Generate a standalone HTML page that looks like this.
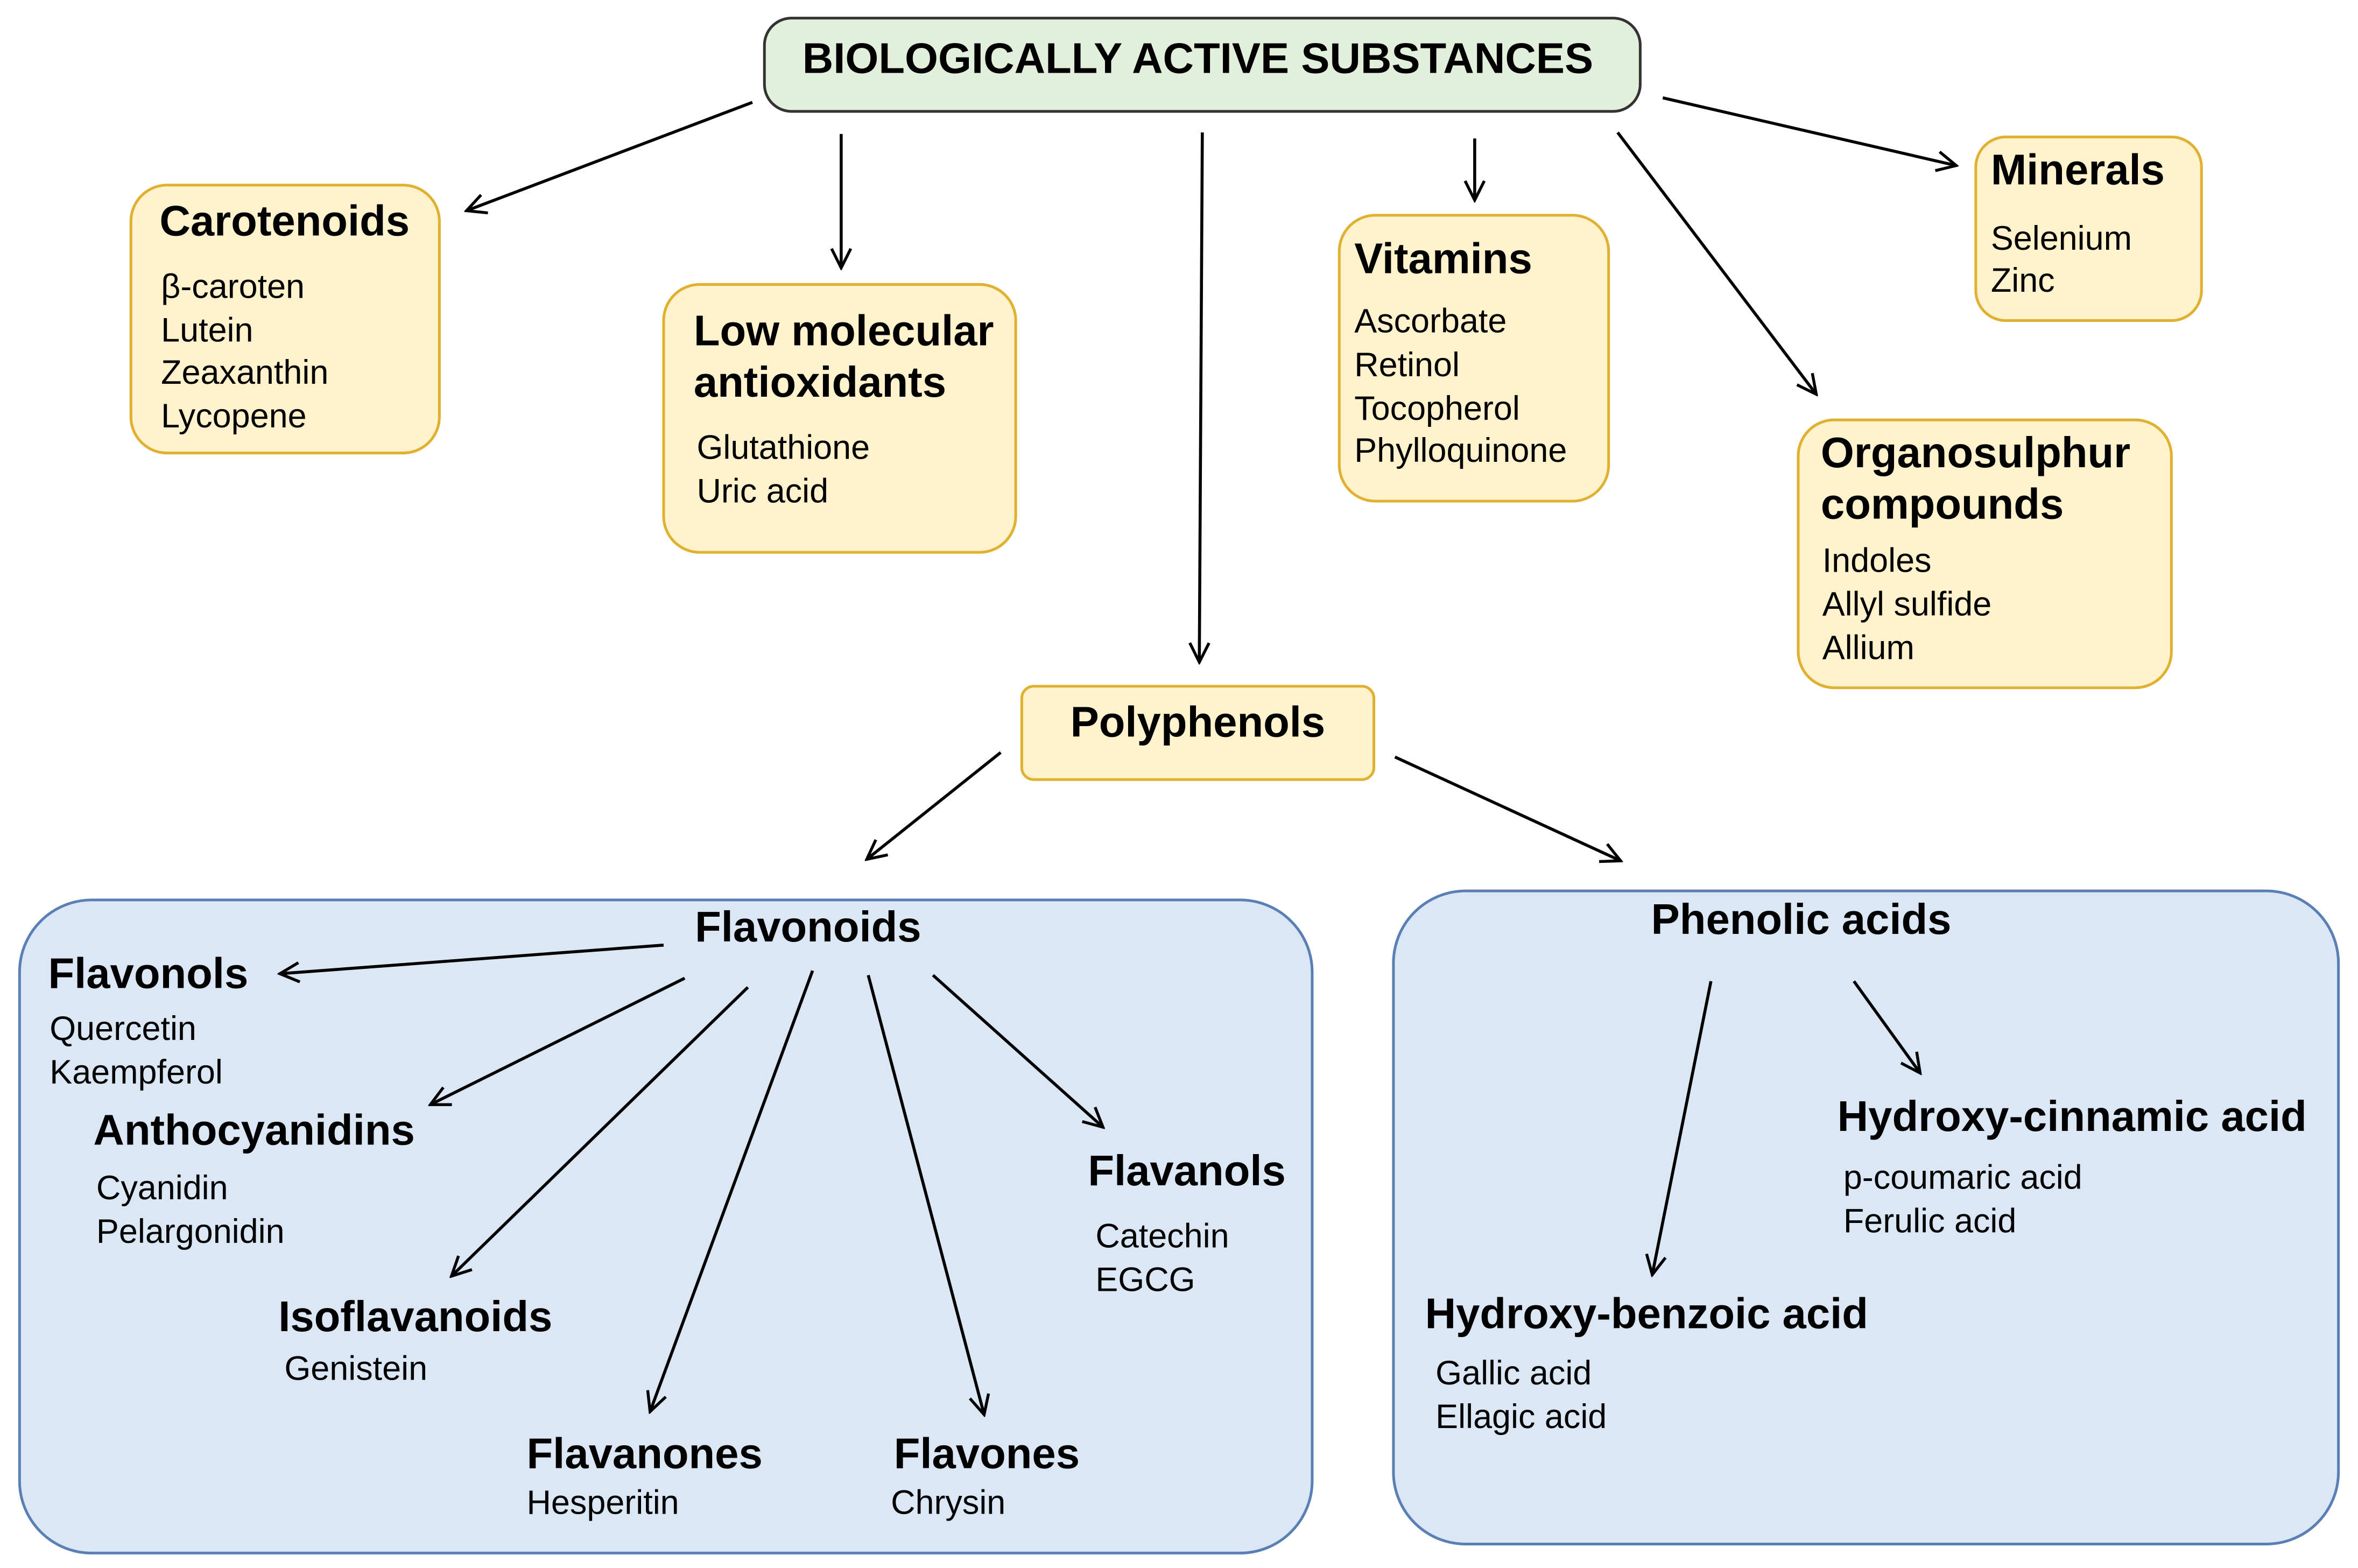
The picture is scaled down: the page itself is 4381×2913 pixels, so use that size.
<!DOCTYPE html>
<html><head><meta charset="utf-8"><style>
html,body{margin:0;padding:0;background:#fff;}
svg{display:block}
text{font-family:"Liberation Sans",Arial,sans-serif;dominant-baseline:middle;fill:#000}
.t{font-weight:bold;font-size:28.5px}
.i{font-size:22.5px}
.y{fill:#fff2cc;stroke:#e0b030;stroke-width:1.8}
.b{fill:#dce7f5;stroke:#5a7fb5;stroke-width:1.8}
.a{stroke:#000;stroke-width:2;fill:none;marker-end:url(#m)}
</style></head><body>
<svg width="4381" height="2913" viewBox="0 0 1567 1041.9" xmlns="http://www.w3.org/2000/svg">
<defs><marker id="m" viewBox="0 0 20 20" refX="18" refY="10" markerWidth="16" markerHeight="16" markerUnits="userSpaceOnUse" orient="auto"><polyline points="2,2 18,10 2,18" fill="none" stroke="#000" stroke-width="2.4"/></marker></defs>
<rect x="0" y="0" width="1567" height="1042" fill="#fff"/>
<rect x="508" y="12" width="582" height="62" rx="18" fill="#e2efda" stroke="#333" stroke-width="1.8"/>
<text x="796" y="41" text-anchor="middle" class="t" style="font-size:28.5px">BIOLOGICALLY ACTIVE SUBSTANCES</text>

<rect class="y" x="87" y="123" width="205" height="178" rx="24"/>
<text class="t" x="106" y="149">Carotenoids</text>
<text class="i" x="107" y="192">β-caroten</text><text class="i" x="107" y="221">Lutein</text><text class="i" x="107" y="249">Zeaxanthin</text><text class="i" x="107" y="278">Lycopene</text>

<rect class="y" x="441" y="189" width="234" height="178" rx="24"/>
<text class="t" x="461" y="222">Low molecular</text><text class="t" x="461" y="256">antioxidants</text>
<text class="i" x="463" y="299">Glutathione</text><text class="i" x="463" y="328">Uric acid</text>

<rect class="y" x="890" y="143" width="179" height="190" rx="24"/>
<text class="t" x="900" y="174">Vitamins</text>
<text class="i" x="900" y="215">Ascorbate</text><text class="i" x="900" y="244">Retinol</text><text class="i" x="900" y="273">Tocopherol</text><text class="i" x="900" y="301">Phylloquinone</text>

<rect class="y" x="1313" y="91" width="150" height="122" rx="20"/>
<text class="t" x="1323" y="115">Minerals</text>
<text class="i" x="1323" y="160">Selenium</text><text class="i" x="1323" y="188">Zinc</text>

<rect class="y" x="1195" y="279" width="248" height="178" rx="24"/>
<text class="t" x="1210" y="303">Organosulphur</text><text class="t" x="1210" y="337">compounds</text>
<text class="i" x="1211" y="374">Indoles</text><text class="i" x="1211" y="403">Allyl sulfide</text><text class="i" x="1211" y="432">Allium</text>

<rect class="y" x="679" y="456" width="234" height="62" rx="8"/>
<text class="t" x="796" y="482" text-anchor="middle">Polyphenols</text>

<rect class="b" x="13" y="598" width="859" height="434" rx="48"/>
<rect class="b" x="926" y="592" width="628" height="434" rx="48"/>

<text class="t" x="537" y="618" text-anchor="middle">Flavonoids</text>
<text class="t" x="32" y="649">Flavonols</text><text class="i" x="33" y="685">Quercetin</text><text class="i" x="33" y="714">Kaempferol</text>
<text class="t" x="62" y="753">Anthocyanidins</text><text class="i" x="64" y="791">Cyanidin</text><text class="i" x="64" y="820">Pelargonidin</text>
<text class="t" x="185" y="877">Isoflavanoids</text><text class="i" x="189" y="911">Genistein</text>
<text class="t" x="350" y="968">Flavanones</text><text class="i" x="350" y="1000">Hesperitin</text>
<text class="t" x="594" y="968">Flavones</text><text class="i" x="592" y="1000">Chrysin</text>
<text class="t" x="723" y="780">Flavanols</text><text class="i" x="728" y="823">Catechin</text><text class="i" x="728" y="852">EGCG</text>

<text class="t" x="1197" y="613" text-anchor="middle">Phenolic acids</text>
<text class="t" x="1221" y="744">Hydroxy-cinnamic acid</text><text class="i" x="1225" y="784">p-coumaric acid</text><text class="i" x="1225" y="813">Ferulic acid</text>
<text class="t" x="947" y="875">Hydroxy-benzoic acid</text><text class="i" x="954" y="914">Gallic acid</text><text class="i" x="954" y="943">Ellagic acid</text>

<line class="a" x1="500" y1="68" x2="310" y2="140"/>
<line class="a" x1="559" y1="89" x2="559" y2="178"/>
<line class="a" x1="799" y1="88" x2="797" y2="440"/>
<line class="a" x1="980" y1="92" x2="980" y2="133"/>
<line class="a" x1="1105" y1="65" x2="1300" y2="110"/>
<line class="a" x1="1075" y1="88" x2="1207" y2="262"/>
<line class="a" x1="665" y1="500" x2="576" y2="571"/>
<line class="a" x1="927" y1="503" x2="1077" y2="572"/>
<line class="a" x1="441" y1="628" x2="186" y2="647"/>
<line class="a" x1="455" y1="650" x2="286" y2="734"/>
<line class="a" x1="497" y1="656" x2="300" y2="848"/>
<line class="a" x1="540" y1="645" x2="432" y2="938"/>
<line class="a" x1="577" y1="648" x2="654" y2="940"/>
<line class="a" x1="620" y1="648" x2="733" y2="749"/>
<line class="a" x1="1137" y1="652" x2="1098" y2="847"/>
<line class="a" x1="1232" y1="652" x2="1276" y2="713"/>
</svg>
</body></html>
